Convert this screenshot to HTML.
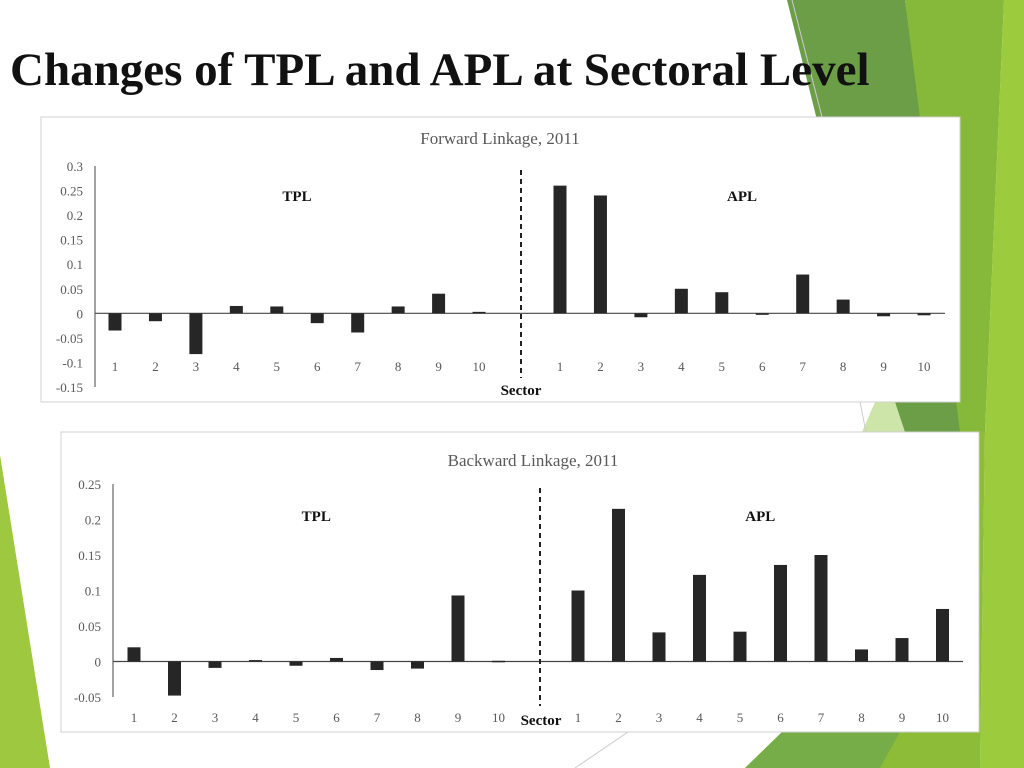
<!DOCTYPE html>
<html><head><meta charset="utf-8"><style>
html,body{margin:0;padding:0;width:1024px;height:768px;overflow:hidden;background:#fff}
svg{display:block}
.tk{font-family:"Liberation Serif",serif;font-size:13px;fill:#595959}
</style></head><body>
<svg id="s" width="1024" height="768" xmlns="http://www.w3.org/2000/svg">
<g>
<polygon points="787,0 905,0 965,432 895,432" fill="#6c9e47"/>
<polygon points="905,0 1004,0 985,432 960,432" fill="#86b83a"/>
<polygon points="1004,0 1024,0 1024,768 980,768 985,432" fill="#9ccb3d"/>
<polygon points="960,432 985,432 980,768 745,768 782,732 979,732" fill="#8cbc38"/>
<polygon points="745,768 782,732 900,732 880,768" fill="#77ad48"/>
<polygon points="875,402 895,402 905,432 862,432" fill="#cde5a8"/>
<polygon points="0,455 50,768 0,768" fill="#9dc83f"/>
<line x1="792" y1="0" x2="822" y2="117" stroke="#ccc"/>
<line x1="860" y1="402" x2="866" y2="432" stroke="#ccc"/>
<line x1="628" y1="732" x2="575" y2="768" stroke="#ccc"/>
</g>
<text x="10" y="85" font-family="Liberation Serif,serif" font-weight="bold" font-size="47" fill="#111">Changes of TPL and APL at Sectoral Level</text>
<g id="c1"></g>
<g id="c2"></g>
</svg>
<script>
const fwdTPL=[-0.035,-0.016,-0.083,0.015,0.014,-0.02,-0.039,0.014,0.04,0.003];
const fwdAPL=[0.26,0.24,-0.008,0.05,0.043,-0.003,0.079,0.028,-0.006,-0.004];
const bwdTPL=[0.02,-0.048,-0.009,0.002,-0.006,0.005,-0.012,-0.01,0.093,0.001];
const bwdAPL=[0.1,0.215,0.041,0.122,0.042,0.136,0.15,0.017,0.033,0.074];
const sectors=["1","2","3","4","5","6","7","8","9","10"];
const fwdTicks=["0.3","0.25","0.2","0.15","0.1","0.05","0","-0.05","-0.1","-0.15"];
const bwdTicks=["0.25","0.2","0.15","0.1","0.05","0","-0.05"];
const NS="http://www.w3.org/2000/svg";
function mk(p,t,a){const e=document.createElementNS(NS,t);for(const k in a)e.setAttribute(k,a[k]);p.appendChild(e);return e;}
function draw(g,o){
  const box=mk(g,'rect',{x:o.bx,y:o.by,width:o.bw,height:o.bh,fill:'#fff',stroke:'#d0d0d0'});
  
  
  const y=v=>o.yTop+(o.vMax-v)/(o.vMax-o.vMin)*(o.yBot-o.yTop);
  const t=mk(g,'text',{x:o.tx,y:o.ty,'text-anchor':'middle','font-family':'Liberation Serif,serif','font-size':17,fill:'#595959'});
  t.textContent=o.title;
  
  
  o.ticks.forEach(s=>{const v=parseFloat(s);const e=mk(g,'text',{x:o.ax-12,y:y(v)+5,'text-anchor':'end',class:'tk'});e.textContent=s;
    
    });
  const ya=mk(g,'line',{x1:o.ax,y1:o.yTop,x2:o.ax,y2:o.yBot,stroke:'#666','stroke-width':1.2});
  
  
  const z=mk(g,'line',{x1:o.ax,y1:y(0),x2:o.zx2,y2:y(0),stroke:'#444','stroke-width':1.2});
  
  
  const d=mk(g,'line',{x1:o.dx,y1:o.dy1,x2:o.dx,y2:o.dy2,stroke:'#222','stroke-width':2,'stroke-dasharray':'5,4'});
  
  
  [[o.tpl,o.x1,'tpl'],[o.apl,o.x2,'apl']].forEach(([vals,x0,nm])=>{
    vals.forEach((v,i)=>{const cx=x0+i*o.step;
      const r=mk(g,'rect',{x:cx-6.5,y:Math.min(y(v),y(0)),width:13,height:Math.max(1.5,Math.abs(y(v)-y(0))),fill:'#262626'});
      
      
      const l=mk(g,'text',{x:cx,y:o.ly,'text-anchor':'middle',class:'tk'});l.textContent=sectors[i];
      
      });
  });
  [['TPL',o.x1+4.5*o.step,'tpl-label'],['APL',o.x2+4.5*o.step,'apl-label']].forEach(([s,x,n])=>{
    const e=mk(g,'text',{x:x,y:o.lby,'text-anchor':'middle','font-family':'Liberation Serif,serif','font-weight':'bold','font-size':15,fill:'#111'});e.textContent=s;
    
    });
  const sx=mk(g,'text',{x:o.sx,y:o.sy,'text-anchor':'middle','font-family':'Liberation Serif,serif','font-weight':'bold','font-size':15,fill:'#111'});sx.textContent='Sector';
  
  
}
draw(document.getElementById('c1'),{bx:41,by:117,bw:919,bh:285,title:'Forward  Linkage,  2011',tx:500,ty:144,
  ticks:fwdTicks,vMax:0.3,vMin:-0.15,yTop:166,yBot:387,ax:95,zx2:945,dx:521,dy1:170,dy2:378,
  tpl:fwdTPL,apl:fwdAPL,x1:115,x2:560,step:40.45,ly:371,lby:201,sx:521,sy:395});
draw(document.getElementById('c2'),{bx:61,by:432,bw:918,bh:300,title:'Backward  Linkage,  2011',tx:533,ty:466,
  ticks:bwdTicks,vMax:0.25,vMin:-0.05,yTop:484,yBot:697,ax:113,zx2:963,dx:540,dy1:488,dy2:706,
  tpl:bwdTPL,apl:bwdAPL,x1:134,x2:578,step:40.5,ly:722,lby:521,sx:541,sy:725});
</script>
</body></html>
